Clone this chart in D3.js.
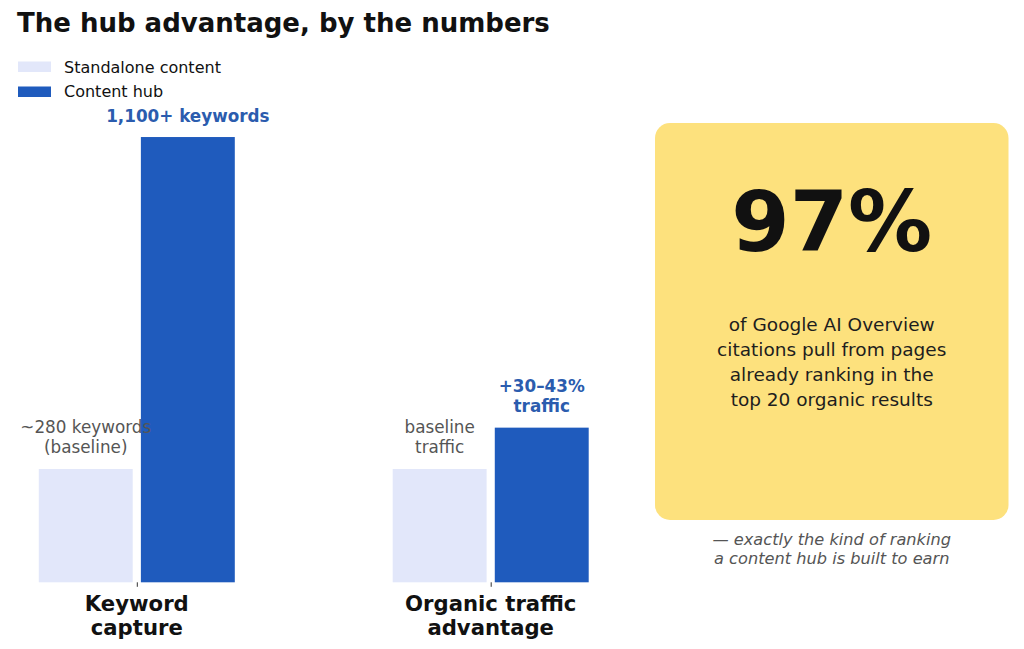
<!DOCTYPE html>
<html lang="en">
  <head>
    <meta charset="UTF-8" />
    <title>The hub advantage, by the numbers</title>
    <script src="https://cdn.jsdelivr.net/npm/d3@7"></script>
    <style>
      body { margin: 0; background: #fff; }
      svg { display: block; font-family: "DejaVu Sans", sans-serif; }
    </style>
  </head>
  <body>
    <svg id="chart" width="1024" height="649"></svg>
    <script>
      // data (relative to the standalone baseline = 1)
      const categories = ["Keyword\ncapture", "Organic traffic\nadvantage"];
      const seriesNames = ["Standalone content", "Content hub"];
      const standalone = [1.0, 1.0];
      const hub = [3.93, 1.365];
      const standaloneLabels = ["~280 keywords\n(baseline)", "baseline\ntraffic"];
      const hubLabels = ["1,100+ keywords", "+30\u201343%\ntraffic"];
      const statValue = "97%";
      const statText = ["of Google AI Overview", "citations pull from pages", "already ranking in the", "top 20 organic results"];
      const statNote = ["\u2014 exactly the kind of ranking", "a content hub is built to earn"];

      const colors = { standalone: "#e2e7fa", hub: "#1f5bbd", label: "#2b5cae", grey: "#555555", box: "#fde17d" };

      const svg = d3.select("#chart");

      // scales
      const x = d3.scalePoint().domain(categories).range([136.8, 490.7]);
      const inner = d3.scaleBand().domain(seriesNames).range([-98, 98]).paddingInner(0.08);
      const y = d3.scaleLinear().domain([0, 1]).range([582.3, 469]);

      // title
      svg.append("text")
        .attr("x", 17).attr("y", 31.5)
        .attr("font-size", 26).attr("font-weight", "bold").attr("fill", "#111")
        .text("The hub advantage, by the numbers");

      // legend
      const legend = svg.append("g");
      [colors.standalone, colors.hub].forEach((c, i) => {
        legend.append("rect").attr("x", 18).attr("y", 61.5 + i * 25).attr("width", 33).attr("height", 10.5).attr("fill", c);
        legend.append("text").attr("x", 64).attr("y", 72.5 + i * 24.5)
          .attr("font-size", 16).attr("fill", "#111").text(seriesNames[i]);
      });

      const multiline = (g, lines, cx, yTop, lh) => {
        const t = g.append("text").attr("text-anchor", "middle");
        lines.forEach((l, i) => t.append("tspan").attr("x", cx).attr("y", yTop + i * lh).text(l));
        return t;
      };

      const plot = svg.append("g");

      // standalone bars
      plot.selectAll("rect.standalone").data(standalone).join("rect")
        .attr("class", "standalone")
        .attr("x", (d, i) => x(categories[i]) + inner(seriesNames[0]))
        .attr("width", inner.bandwidth())
        .attr("y", d => y(d))
        .attr("height", d => y(0) - y(d))
        .attr("fill", colors.standalone);

      // hub bars
      plot.selectAll("rect.hub").data(hub).join("rect")
        .attr("class", "hub")
        .attr("x", (d, i) => x(categories[i]) + inner(seriesNames[1]))
        .attr("width", inner.bandwidth())
        .attr("y", d => y(d))
        .attr("height", d => y(0) - y(d))
        .attr("fill", colors.hub);

      // value labels
      standalone.forEach((d, i) => {
        multiline(plot, standaloneLabels[i].split("\n"),
          x(categories[i]) + inner(seriesNames[0]) + inner.bandwidth() / 2, y(d) - 36, 20)
          .attr("font-size", 16.8).attr("fill", colors.grey);
      });
      hub.forEach((d, i) => {
        const lines = hubLabels[i].split("\n");
        multiline(plot, lines,
          x(categories[i]) + inner(seriesNames[1]) + inner.bandwidth() / 2, y(d) - 15.5 - (lines.length - 1) * 20, 20)
          .attr("font-size", 16.8).attr("font-weight", "bold").attr("fill", colors.label);
      });

      // x axis: ticks and category labels
      const axis = svg.append("g").attr("transform", `translate(0,${y(0)})`)
        .call(d3.axisBottom(x).tickSize(4.5).tickFormat(""));
      axis.select(".domain").remove();
      axis.selectAll(".tick line").attr("stroke", "#333").attr("stroke-width", 1);
      categories.forEach(c => {
        multiline(svg, c.split("\n"), x(c), 611, 23.5).attr("font-size", 21.2).attr("font-weight", "bold").attr("fill", "#111");
      });

      // stat box
      const box = { x: 655, y: 123, w: 353.5, h: 397 };
      const cx = box.x + box.w / 2;
      svg.append("rect").attr("x", box.x).attr("y", box.y).attr("width", box.w).attr("height", box.h)
        .attr("rx", 15).attr("fill", colors.box);
      svg.append("text").attr("x", cx).attr("y", 251).attr("text-anchor", "middle")
        .attr("font-size", 84).attr("font-weight", "bold").attr("fill", "#111").text(statValue);
      multiline(svg, statText, cx, 331, 25).attr("font-size", 18.5).attr("fill", "#1e1e1e");
      multiline(svg, statNote, cx, 545, 19).attr("font-size", 16.2).attr("font-style", "italic").attr("fill", colors.grey);
    </script>
  </body>
</html>
